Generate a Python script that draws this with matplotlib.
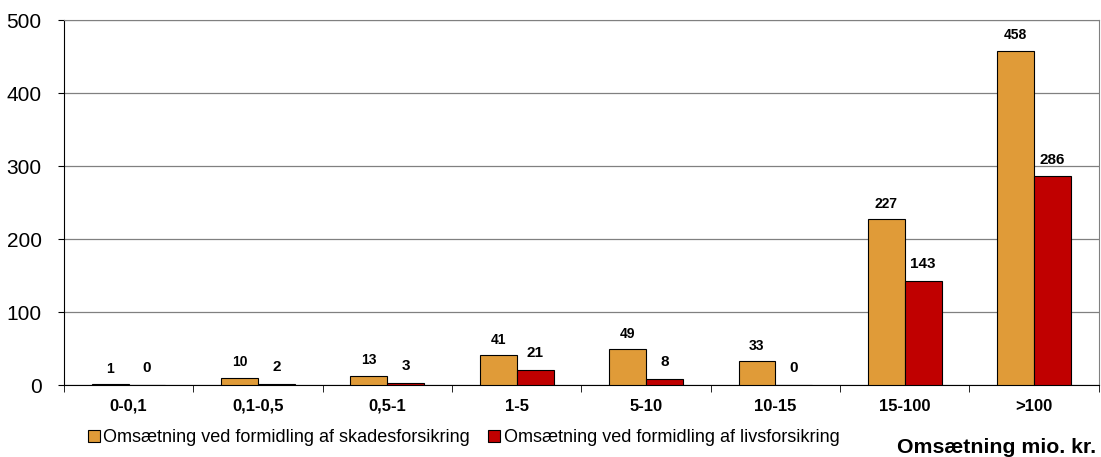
import numpy as np
from matplotlib import pyplot as plt

plt.rcParams['font.family'] = ['Liberation Sans', 'DejaVu Sans']

kategorier = ['0-0,1', '0,1-0,5', '0,5-1', '1-5', '5-10', '10-15', '15-100', '>100']
skade = [1, 10, 13, 41, 49, 33, 227, 458]
liv = [0, 2, 3, 21, 8, 0, 143, 286]

fig = plt.figure(figsize=(11.01, 4.57), dpi=100)
ax = fig.add_axes([0.058, 0.1575, 0.94, 0.7985])

x = np.arange(len(kategorier))
w = 0.285
b1 = ax.bar(x - w / 2, skade, w, color='#E09B38', edgecolor='black', linewidth=0.8,
            label='Omsætning ved formidling af skadesforsikring', zorder=3)
b2 = ax.bar(x + w / 2, liv, w, color='#C00000', edgecolor='black', linewidth=0.8,
            label='Omsætning ved formidling af livsforsikring', zorder=3)

# værdier over søjlerne
for xi, v in zip(x, skade):
    ax.annotate(str(v), (xi - w / 2, v), xytext=(0, 6), textcoords='offset points',
                ha='center', va='bottom', fontsize=10, fontweight='bold')
for xi, v in zip(x, liv):
    ax.annotate(str(v), (xi + w / 2, v), xytext=(0, 7), textcoords='offset points',
                ha='center', va='bottom', fontsize=11, fontweight='bold')

ax.set_xlim(-0.5, len(kategorier) - 0.5)
ax.set_ylim(0, 500)
ax.set_yticks(range(0, 501, 100))
ax.tick_params(axis='y', labelsize=15, length=4, direction='out', pad=12)
ax.set_xticks(x)
ax.set_xticklabels(kategorier, fontsize=12, fontweight='bold')
ax.set_xticks(np.arange(-0.5, len(kategorier)), minor=True)
ax.tick_params(axis='x', which='major', length=0, pad=10)
ax.tick_params(axis='x', which='minor', length=5, direction='out')
ax.grid(axis='y', color='#808080', linewidth=0.9, zorder=0)
for s in ['top', 'right']:
    ax.spines[s].set_color('#808080')
for s in ['left', 'bottom']:
    ax.spines[s].set_color('black')

fig.legend(handles=[b1, b2], loc='center left', bbox_to_anchor=(0.08, 0.042), ncol=2,
           frameon=False, fontsize=13, handlelength=0.65, handleheight=0.65,
           handletextpad=0.2, columnspacing=1.0, borderaxespad=0, borderpad=0)
fig.text(0.996, 0.009, 'Omsætning mio. kr.', ha='right', va='baseline',
         fontsize=15.3, fontweight='bold')

plt.savefig('out.png', dpi=100)
